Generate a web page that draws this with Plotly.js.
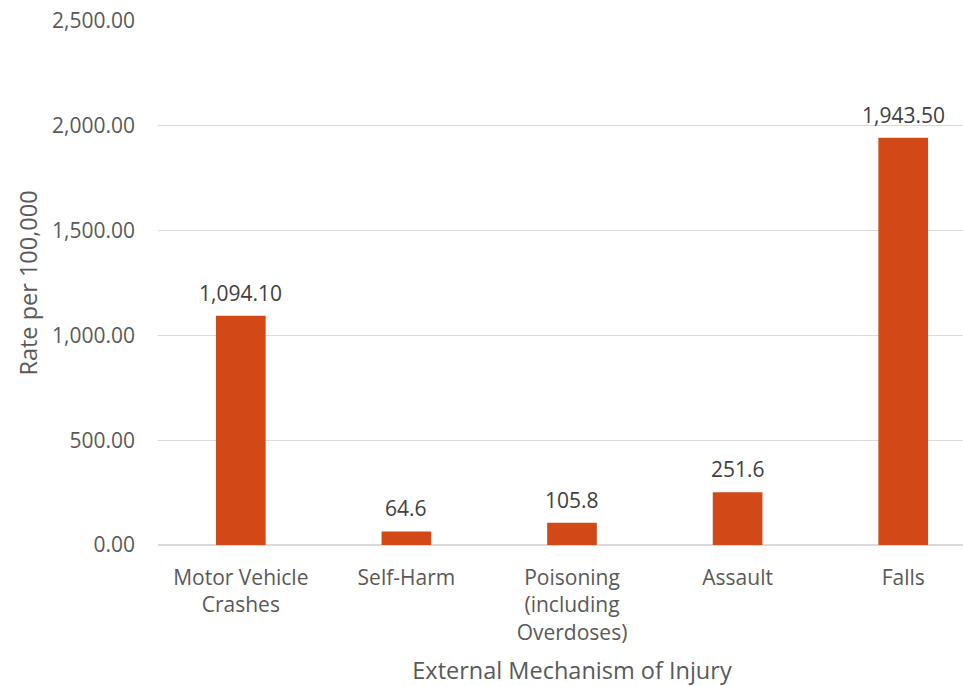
<!DOCTYPE html>
<html>
<head>
<meta charset="utf-8">
<script src="https://cdn.plot.ly/plotly-3.0.1.min.js"></script>
<style>
html, body { margin: 0; padding: 0; overflow: hidden; background: #fff; }
#chart { width: 990px; height: 686px; }
</style>
</head>
<body>
<div id="chart"></div>
<script>
const categories = ["Motor Vehicle<br>Crashes", "Self-Harm", "Poisoning<br>(including<br>Overdoses)", "Assault", "Falls"];
const rates = [1094.10, 64.6, 105.8, 251.6, 1943.50];
const rateLabels = ["1,094.10", "64.6", "105.8", "251.6", "1,943.50"];
const yTicks = [0, 500, 1000, 1500, 2000, 2500];

const FONT = "Open Sans, sans-serif";
const GREY = "#595959";

const labelAnnotations = categories.map((c, i) => ({
  x: c, y: rates[i], xref: "x", yref: "y",
  text: rateLabels[i], showarrow: false,
  yanchor: "middle", yshift: 23,
  font: { family: FONT, size: 21, color: "#404040" }
}));

Plotly.newPlot("chart", [{
  type: "bar",
  x: categories,
  y: rates,
  marker: { color: "#D34817" },
  hoverinfo: "skip"
}], {
  width: 990,
  height: 686,
  margin: { l: 158, r: 4, t: 21, b: 141 },
  paper_bgcolor: "#fff",
  plot_bgcolor: "#fff",
  bargap: 0.7,
  showlegend: false,
  font: { family: FONT, size: 21, color: GREY },
  annotations: labelAnnotations,
  xaxis: {
    type: "category",
    tickfont: { family: FONT, size: 21, color: GREY },
    ticks: "",
    showline: false,
    ticklabelstandoff: 18,
    title: { text: "External Mechanism of Injury", font: { family: FONT, size: 23.5, color: GREY }, standoff: 22 }
  },
  yaxis: {
    range: [0, 2500],
    tickvals: yTicks,
    tickformat: ",.2f",
    tickfont: { family: FONT, size: 21, color: GREY },
    gridcolor: "#D9D9D9",
    gridwidth: 1.3,
    zeroline: true,
    zerolinecolor: "#D9D9D9",
    zerolinewidth: 1.3,
    ticks: "",
    ticklabelstandoff: 22,
    title: { text: "Rate per 100,000", font: { family: FONT, size: 23.5, color: GREY }, standoff: 7 }
  }
}, { displayModeBar: false, staticPlot: true });
</script>
</body>
</html>
